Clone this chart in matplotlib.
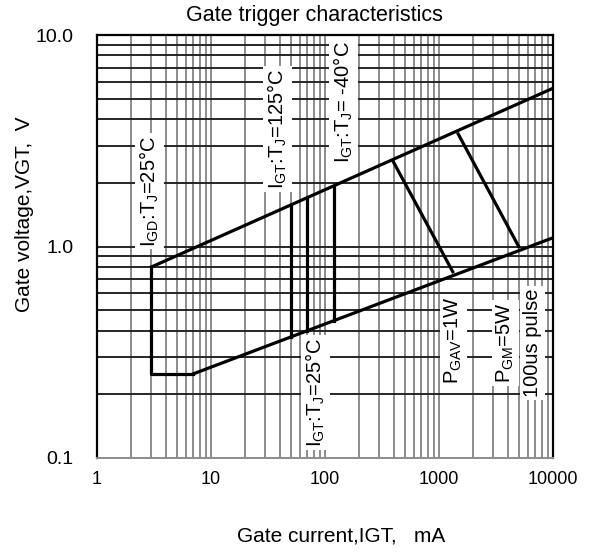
import matplotlib
matplotlib.use("Agg")
import matplotlib.pyplot as plt
from matplotlib.ticker import FixedLocator, NullFormatter
import numpy as np

plt.rcParams['font.family'] = ['Liberation Sans', 'DejaVu Sans']
plt.rcParams['mathtext.fontset'] = 'custom'
plt.rcParams['mathtext.rm'] = 'Liberation Sans'
plt.rcParams['mathtext.it'] = 'Liberation Sans:italic'

# boundary of the gate trigger region (mA, V)
upper_x = [3, 10000]
upper_y = [0.8, 5.6]
lower_x = [7, 10000]
lower_y = [0.25, 1.1]
left_x = [3, 3, 7]
left_y = [0.8, 0.25, 0.25]

# IGT vertical lines (mA) spanning lower->upper
igt_x = [50, 70, 120]

# power curves: endpoints (mA, V)
p1w_x = [400, 1320]
p1w_y = [2.5, 0.76]
p5w_x = [1475, 5000]
p5w_y = [3.4, 1.0]

xticks = [1, 10, 100, 1000, 10000]
xticklabels = ['1', '10', '100', '1000', '10000']
yticks = [0.1, 1, 10]
yticklabels = ['0.1', '1.0', '10.0']


def line_at(xs, ys, x):
    lx = np.log10(xs); ly = np.log10(ys)
    t = (np.log10(x) - lx[0]) / (lx[1] - lx[0])
    return 10 ** (ly[0] + t * (ly[1] - ly[0]))


fig = plt.figure(figsize=(5.92, 5.54), dpi=100)
ax = fig.add_axes([97/592, 1-458/554, 456/592, 423/554])
ax.set_xscale('log'); ax.set_yscale('log')
ax.set_xlim(1, 10000); ax.set_ylim(0.1, 10)

# grid
xminor = [m * 10**d for d in range(0, 4) for m in range(2, 10)]
yminor = [m * 10**d for d in (-1, 0) for m in range(2, 10)]
for xv in xminor + xticks[1:-1]:
    ax.axvline(xv, color='#8c8c8c', lw=1.4, zorder=1)
for yv in yminor + [1]:
    ax.axhline(yv, color='#262626', lw=1.4, zorder=1)

lw = 2.3
ax.plot(upper_x, upper_y, color='black', lw=lw, zorder=4)
ax.plot(lower_x, lower_y, color='black', lw=lw, zorder=4)
ax.plot(left_x, left_y, color='black', lw=lw, zorder=4)
for xv in igt_x:
    ax.plot([xv, xv], [line_at(lower_x, lower_y, xv), line_at(upper_x, upper_y, xv)],
            color='black', lw=lw, zorder=4)
ax.plot(p1w_x, p1w_y, color='black', lw=lw, zorder=4)
ax.plot(p5w_x, p5w_y, color='black', lw=lw, zorder=4)

bbox = dict(facecolor='white', edgecolor='none', pad=2)
fs = 14.5
labels = [
    (2.9, 1.83, r'I$_{\rm GD}$:T$_{\rm J}$=25°C'),
    (38, 3.6, r'I$_{\rm GT}$:T$_{\rm J}$=125°C'),
    (144, 4.8, r'I$_{\rm GT}$:T$_{\rm J}$= -40°C'),
    (82, 0.205, r'I$_{\rm GT}$:T$_{\rm J}$=25°C'),
    (1330, 0.36, r'P$_{\rm GAV}$=1W'),
    (3800, 0.35, r'P$_{\rm GM}$=5W'),
    (6600, 0.35, '100us pulse'),
]
for x, y, s in labels:
    ax.text(x, y, s, rotation=90, ha='center', va='center', fontsize=fs,
            bbox=bbox, zorder=3)

ax.xaxis.set_major_locator(FixedLocator(xticks))
ax.set_xticklabels(xticklabels)
ax.yaxis.set_major_locator(FixedLocator(yticks))
ax.set_yticklabels(yticklabels)
ax.xaxis.set_minor_formatter(NullFormatter())
ax.yaxis.set_minor_formatter(NullFormatter())
ax.tick_params(which='both', length=0)
ax.tick_params(axis='x', pad=9, labelsize=13)
ax.tick_params(axis='y', pad=17, labelsize=14)
for s in ['left', 'top', 'right']:
    ax.spines[s].set_linewidth(1.6)
    ax.spines[s].set_color('black')
ax.spines['bottom'].set_color('#8c8c8c')
ax.spines['bottom'].set_linewidth(1.4)
for sp in ax.spines.values():
    sp.set_zorder(5)

fig.text(314/592, 1 - 16/554, 'Gate trigger characteristics', ha='center', va='center', fontsize=15.5)
fig.text(25/592, 1 - 214/554, 'Gate voltage,VGT,  V', rotation=90, ha='center', va='center', fontsize=15)
fig.text(341/592, 1 - 536/554, 'Gate current,IGT,   mA', ha='center', va='center', fontsize=15)

fig.savefig('out.png', dpi=100)
